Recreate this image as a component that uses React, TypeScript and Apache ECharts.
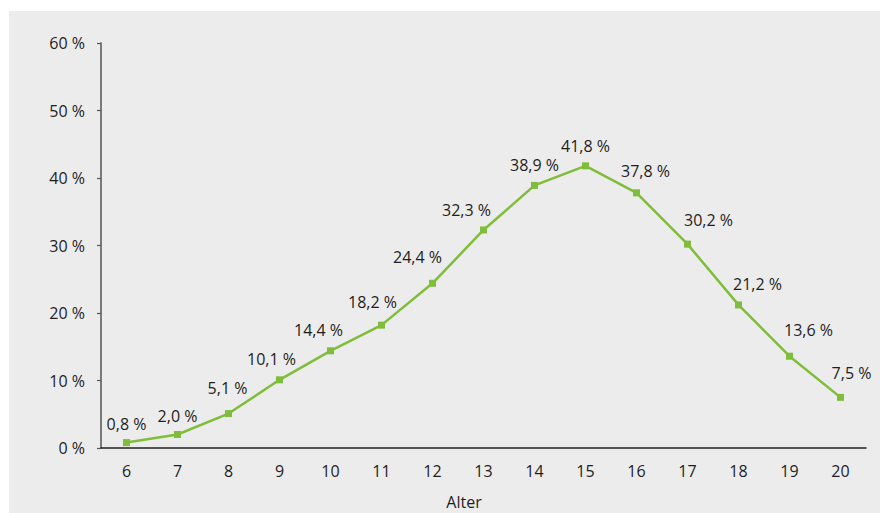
import React, { useEffect, useRef } from "react";
import * as echarts from "echarts";

const categories = ["6", "7", "8", "9", "10", "11", "12", "13", "14", "15", "16", "17", "18", "19", "20"];
const values = [0.8, 2.0, 5.1, 10.1, 14.4, 18.2, 24.4, 32.3, 38.9, 41.8, 37.8, 30.2, 21.2, 13.6, 7.5];
const yTicks = [0, 10, 20, 30, 40, 50, 60];
const xAxisTitle = "Alter";

// label placement offsets (dx, dy) relative to each point
const labelOffsets: [number, number][] = [
  [0, -19], [0, -19], [-1, -26], [-8, -21], [-12, -21], [-9, -23], [-15, -26],
  [-17, -20], [0, -20], [0, -20], [9, -22], [21, -24], [19, -21], [19, -26], [11, -24],
];

const fmt = (v: number) => v.toFixed(1).replace(".", ",") + " %";

export default function App() {
  const ref = useRef<HTMLDivElement>(null);
  useEffect(() => {
    document.body.style.margin = "0";
    const chart = echarts.init(ref.current!, null, { renderer: "svg" });
    const font = "'Open Sans', sans-serif";
    const fs = 16;
    const tc = "#1e1e1e";
    chart.setOption({
      animation: false,
      backgroundColor: "#ffffff",
      textStyle: { fontFamily: font },
      graphic: [
        { type: "rect", z: -10, silent: true, shape: { x: 9, y: 11, width: 871, height: 502 }, style: { fill: "#ececec" } },
        {
          type: "text",
          x: 464,
          y: 502,
          style: { text: xAxisTitle, fill: tc, font: `${fs}px ${font}`, align: "center", verticalAlign: "middle" },
        },
      ],
      grid: { left: 101, right: 14, top: 43, bottom: 65, containLabel: false },
      xAxis: {
        type: "category",
        data: categories,
        boundaryGap: true,
        axisLine: { lineStyle: { color: "#222", width: 1.5 } },
        axisTick: { show: false },
        axisLabel: { color: tc, fontSize: fs, margin: 15, fontFamily: font },
      },
      yAxis: {
        type: "value",
        min: yTicks[0],
        max: yTicks[yTicks.length - 1],
        interval: 10,
        axisLine: { show: true, lineStyle: { color: "#555", width: 1.5 } },
        axisTick: { show: true, length: 4, lineStyle: { color: "#555", width: 1.2 } },
        splitLine: { show: false },
        axisLabel: { color: tc, fontSize: fs, margin: 16, fontFamily: font, formatter: "{value} %" },
      },
      series: [
        {
          type: "line",
          data: values.map((v, i) => ({
            value: v,
            label: { offset: labelOffsets[i] },
          })),
          symbol: "rect",
          symbolSize: 7,
          lineStyle: { color: "#7fbd3b", width: 2.5 },
          itemStyle: { color: "#7fbd3b" },
          label: {
            show: true,
            position: "inside",
            color: tc,
            fontSize: fs,
            fontFamily: font,
            formatter: (p: any) => fmt(p.value),
          },
        },
      ],
    });
    return () => chart.dispose();
  }, []);
  return <div ref={ref} style={{ width: 880, height: 513 }} />;
}
